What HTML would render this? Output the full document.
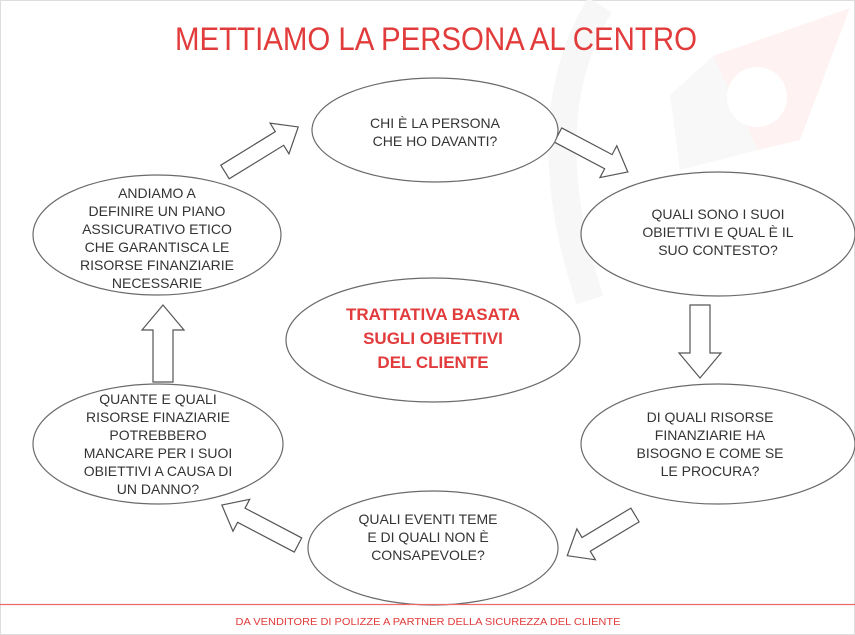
<!DOCTYPE html>
<html><head><meta charset="utf-8"><style>
body{margin:0;background:#fff;}
svg{display:block;font-family:"Liberation Sans",sans-serif;}
.e{fill:#fff;stroke:#6a6a6a;stroke-width:1.2}
.a{fill:#fff;stroke:#555;stroke-width:1.2}
.t{font-size:14px;fill:#333;text-anchor:middle}
</style></head><body>
<svg width="855" height="635" viewBox="0 0 855 635">
<rect x="0.5" y="0.5" width="854" height="634" fill="#fff" stroke="#ddd"/>
<!-- faint logo -->
<path d="M600 5 Q530 120 590 300" fill="none" stroke="#f7f7f7" stroke-width="28"/>
<polygon points="713,56 850,8 800,140 758,150" fill="#fef2f2"/>
<polygon points="713,56 758,150 680,170 670,95" fill="#f8f8f8"/>
<circle cx="757" cy="97" r="30" fill="#fff"/>
<text x="436" y="50" font-size="32" fill="#e23b3b" text-anchor="middle" textLength="522" lengthAdjust="spacingAndGlyphs">METTIAMO LA PERSONA AL CENTRO</text>
<g class="a">
<polygon transform="translate(225,172) rotate(-31.6)" points="0,-8 64,-8 64,-18 86,0 64,18 64,8 0,8"/>
<polygon transform="translate(558,135) rotate(27.9)" points="0,-8 57,-8 57,-18 79,0 57,18 57,8 0,8"/>
<polygon transform="translate(700,305) rotate(90)" points="0,-10 48,-10 48,-21 73,0 48,21 48,10 0,10"/>
<polygon transform="translate(635,515) rotate(149)" points="0,-8 57,-8 57,-18 79,0 57,18 57,8 0,8"/>
<polygon transform="translate(298,545) rotate(207.7)" points="0,-8 64,-8 64,-18 86,0 64,18 64,8 0,8"/>
<polygon transform="translate(163,382) rotate(-90)" points="0,-10 52,-10 52,-21 77,0 52,21 52,10 0,10"/>
</g>
<ellipse class="e" cx="435" cy="130" rx="123" ry="52"/>
<ellipse class="e" cx="718" cy="234" rx="137" ry="62"/>
<ellipse class="e" cx="433" cy="340" rx="147" ry="62"/>
<ellipse class="e" cx="718" cy="444" rx="137" ry="60"/>
<ellipse class="e" cx="433" cy="548" rx="125" ry="57"/>
<ellipse class="e" cx="158" cy="444" rx="125" ry="60"/>
<ellipse class="e" cx="157" cy="235" rx="124" ry="60"/>
<text class="t" x="435" y="128">CHI È LA PERSONA</text>
<text class="t" x="435" y="146">CHE HO DAVANTI?</text>
<text class="t" x="718" y="219">QUALI SONO I SUOI</text>
<text class="t" x="718" y="237">OBIETTIVI E QUAL È IL</text>
<text class="t" x="718" y="255">SUO CONTESTO?</text>
<g font-size="17" font-weight="bold" fill="#e23b3b" text-anchor="middle">
<text x="433" y="320">TRATTATIVA BASATA</text>
<text x="433" y="344">SUGLI OBIETTIVI</text>
<text x="433" y="368">DEL CLIENTE</text>
</g>
<text class="t" x="710" y="422">DI QUALI RISORSE</text>
<text class="t" x="710" y="440">FINANZIARIE HA</text>
<text class="t" x="710" y="458">BISOGNO E COME SE</text>
<text class="t" x="710" y="476">LE PROCURA?</text>
<text class="t" x="428" y="524">QUALI EVENTI TEME</text>
<text class="t" x="428" y="542">E DI QUALI NON È</text>
<text class="t" x="428" y="560">CONSAPEVOLE?</text>
<text class="t" x="158" y="404">QUANTE E QUALI</text>
<text class="t" x="158" y="422">RISORSE FINAZIARIE</text>
<text class="t" x="158" y="440">POTREBBERO</text>
<text class="t" x="158" y="458">MANCARE PER I SUOI</text>
<text class="t" x="158" y="476">OBIETTIVI A CAUSA DI</text>
<text class="t" x="158" y="494">UN DANNO?</text>
<text class="t" x="157" y="198">ANDIAMO A</text>
<text class="t" x="157" y="216">DEFINIRE UN PIANO</text>
<text class="t" x="157" y="234">ASSICURATIVO ETICO</text>
<text class="t" x="157" y="252">CHE GARANTISCA LE</text>
<text class="t" x="157" y="270">RISORSE FINANZIARIE</text>
<text class="t" x="157" y="288">NECESSARIE</text>
<line x1="0" y1="604.5" x2="855" y2="604.5" stroke="#e86b6b" stroke-width="1.2"/>
<text x="428" y="625" font-size="10.5" fill="#e23b3b" text-anchor="middle" textLength="385" lengthAdjust="spacingAndGlyphs">DA VENDITORE DI POLIZZE A PARTNER DELLA SICUREZZA DEL CLIENTE</text>
</svg>
</body></html>
